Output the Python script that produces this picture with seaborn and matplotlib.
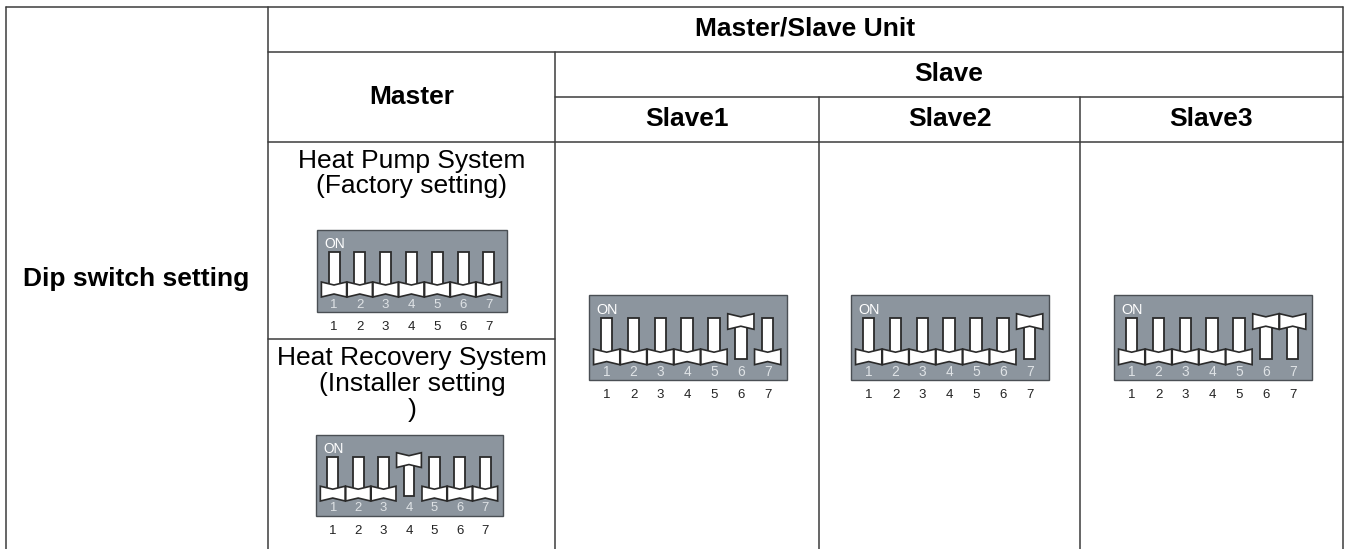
import matplotlib
matplotlib.use('Agg')
import pandas as pd
import seaborn as sns
from matplotlib import pyplot as plt
from matplotlib.patches import Polygon, Rectangle

# switch labels and on/off state of each dip switch block
switch_numbers = ['1', '2', '3', '4', '5', '6', '7']
heat_pump = [0, 0, 0, 0, 0, 0, 0]
heat_recovery = [0, 0, 0, 1, 0, 0, 0]
slave1 = [0, 0, 0, 0, 0, 1, 0]
slave2 = [0, 0, 0, 0, 0, 0, 1]
slave3 = [0, 0, 0, 0, 0, 1, 1]

title_unit = 'Master/Slave Unit'
title_row = 'Dip switch setting'
col_master = 'Master'
col_slave = 'Slave'
col_slaves = ['Slave1', 'Slave2', 'Slave3']
text_pump = 'Heat Pump System\n(Factory setting)'
text_recovery = 'Heat Recovery System\n(Installer setting\n)'

LINE = '#3c3c3c'
BOX = '#8c959e'
EDGE = '#2a2a2a'

sns.set_theme(style='white')
plt.rcParams['font.family'] = ['Liberation Sans', 'DejaVu Sans']

fig = plt.figure(figsize=(13.45, 5.49), dpi=100)
ax = fig.add_axes([0, 0, 1, 1])

# table rules, one row per end point
rules = [
    (5.5, 6.5, 1343, 6.5), (268, 51.5, 1343, 51.5), (555, 96.5, 1343, 96.5),
    (268, 141.5, 1343, 141.5), (268, 338.5, 555, 338.5),
    (5.5, 6.5, 5.5, 549), (268, 6.5, 268, 549), (555, 51.5, 555, 549),
    (819, 96.5, 819, 549), (1080, 96.5, 1080, 549), (1343, 6.5, 1343, 549),
]
rows = []
for i, (x0, y0, x1, y1) in enumerate(rules):
    rows.append({'rule': i, 'x': x0, 'y': y0})
    rows.append({'rule': i, 'x': x1, 'y': y1})
rule_df = pd.DataFrame(rows)
sns.lineplot(data=rule_df, x='x', y='y', units='rule', estimator=None, sort=False,
             color=LINE, linewidth=1.1, legend=False, ax=ax)


def draw_switches(states, left, top, scale):
    w, h = 190 * scale, 82 * scale
    ax.add_patch(Rectangle((left, top), w, h, fc=BOX, ec='#4a4f54', lw=1.0))
    ax.text(left + 7 * scale, top + 14 * scale, 'ON', color='white', fontsize=10 * scale,
            va='center', ha='left')
    step = 25.8 * scale
    for i, on in enumerate(states):
        cx = left + (17 + i * 25.8) * scale
        # stem
        ax.add_patch(Rectangle((cx - 5.5 * scale, top + 22 * scale), 11 * scale, 40 * scale,
                               fc='white', ec=EDGE, lw=1.3, zorder=3))
        # handle, pinched in the middle
        t = (18 if on else 52) * scale + top
        b = t + 15 * scale
        hw = step / 2 - 0.3
        pts = [(cx - hw, t), (cx, t + 3 * scale), (cx + hw, t), (cx + hw, b),
               (cx, b - 3 * scale), (cx - hw, b)]
        ax.add_patch(Polygon(pts, closed=True, fc='white', ec=EDGE, lw=1.2, zorder=4))
        ax.text(cx, top + 74.5 * scale, switch_numbers[i], color='#dfe3e6', fontsize=9.5 * scale,
                ha='center', va='center', zorder=5)
        ax.text(cx, top + h + 15, switch_numbers[i], color='#222222', fontsize=9.5,
                ha='center', va='center')


draw_switches(heat_pump, 317, 230, 1.0)
draw_switches(heat_recovery, 316, 435, 0.985)
draw_switches(slave1, 589, 295, 1.04)
draw_switches(slave2, 851, 295, 1.04)
draw_switches(slave3, 1114, 295, 1.04)

bold = dict(fontsize=19, fontweight='bold', color='#000000', ha='center', va='baseline')
plain = dict(fontsize=19, color='#000000', ha='center', va='baseline')
ax.text(805.5, 36, title_unit, **bold)
ax.text(412, 104, col_master, **bold)
ax.text(949, 81, col_slave, **bold)
for x, name in zip([687, 949.5, 1211.5], col_slaves):
    ax.text(x, 126, name, **bold)
ax.text(136.5, 286, title_row, **bold)
ax.text(412, 193, text_pump, linespacing=1.05, **plain)
ax.text(412, 417, text_recovery, linespacing=1.1, **plain)

ax.set_xlim(0, 1345)
ax.set_ylim(549, 0)
ax.set_axis_off()
plt.savefig('out.png', dpi=100)
